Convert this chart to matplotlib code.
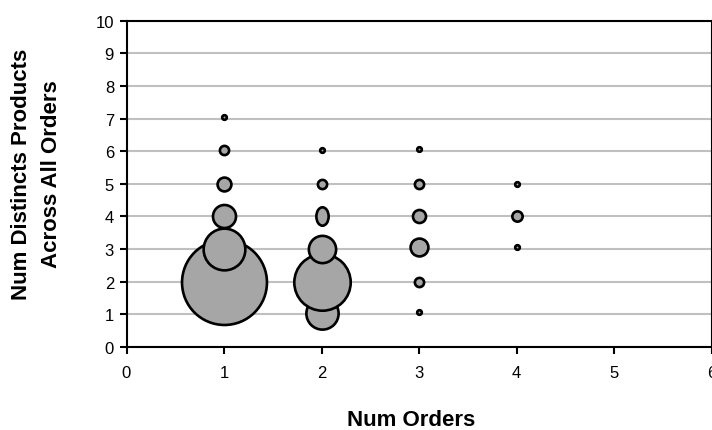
import matplotlib
matplotlib.use("Agg")
import matplotlib.pyplot as plt
from matplotlib.path import Path
from matplotlib.transforms import Affine2D

plt.rcParams["font.family"] = ["Liberation Sans", "DejaVu Sans"]

# bubble data (x = num orders, y = num distinct products, size = count)
num_orders = [1, 1, 1, 1, 1, 1, 2, 2, 2, 2, 2, 2, 3, 3, 3, 3, 3, 3, 4, 4, 4]
num_products = [2, 3, 4, 5, 6.05, 7.05, 1.05, 2, 3, 4, 5, 6.05,
                1.06, 2, 3.06, 4, 5, 6.07, 3.06, 4, 5]
counts = [340, 82, 25, 9, 4, 1, 49, 150, 35, 16, 4, 1,
          1, 4, 15, 8, 4, 1, 1, 5, 1]
# one bubble at (2, 4) is drawn stretched vertically in the original
stretch = [1, 1, 1, 1, 1, 1, 1, 1, 1, 1.5, 1, 1,
           1, 1, 1, 1, 1, 1, 1, 1, 1]

x_ticks = [0, 1, 2, 3, 4, 5, 6]
y_ticks = [0, 1, 2, 3, 4, 5, 6, 7, 8, 9, 10]

fig = plt.figure(figsize=(7.12, 4.31), dpi=100)
ax = fig.add_axes([126.5 / 712, 1 - 348 / 431, 585 / 712, (348 - 21.7) / 431])

size_scale = 11.0
order = sorted(range(len(counts)), key=lambda i: (num_orders[i], num_products[i]))
for z, i in enumerate(order):
    if stretch[i] != 1:
        mk = Path.unit_circle().transformed(Affine2D().scale(1, stretch[i]))
    else:
        mk = "o"
    ax.scatter([num_orders[i]], [num_products[i]], s=size_scale * counts[i], marker=mk,
               facecolor="#a6a6a6", edgecolor="black", linewidth=1.9,
               zorder=3 + z * 0.01, clip_on=False)

ax.set_xlim(0, 6)
ax.set_ylim(0, 10)
ax.set_xticks(x_ticks)
ax.set_yticks(y_ticks)
ax.tick_params(axis="both", direction="out", length=5, width=1.5,
               labelsize=12, color="black", pad=4)
ax.tick_params(axis="x", pad=8)

ax.yaxis.grid(True, color="#c0c0c0", linewidth=1.5, zorder=1)
ax.set_axisbelow(True)
for sp in ax.spines.values():
    sp.set_linewidth(1.5)
    sp.set_color("black")

fig.text(411 / 712, 1 - 421 / 431, "Num Orders", ha="center", va="center",
         fontsize=16, fontweight="bold")
fig.text(36.5 / 712, 1 - 174 / 431, "Num Distincts Products\nAcross All Orders",
         ha="center", va="center", rotation=90, fontsize=16,
         fontweight="bold", linespacing=1.55, multialignment="center")

fig.savefig("out.png", dpi=100)
